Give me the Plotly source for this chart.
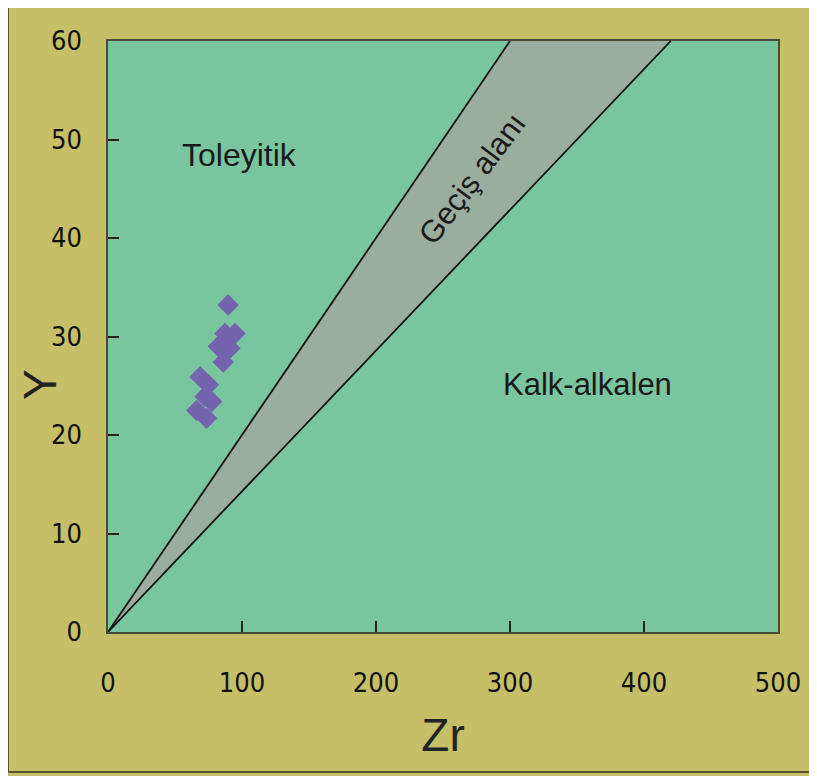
import plotly.graph_objects as go

# Sample data (Zr, Y) in ppm
zr = [89.6, 94.8, 87.3, 82.3, 91.0, 86.0, 68.7, 74.9, 72.4, 77.4, 66.2, 73.6]
y = [33.2, 30.3, 30.3, 29.0, 28.8, 27.4, 25.9, 25.1, 23.9, 23.4, 22.5, 21.7]

# Boundary lines through origin (Zr/Y = 5 and Zr/Y = 7)
line_a_zr = [0, 300]
line_a_y = [0, 60]
line_b_zr = [0, 420]
line_b_y = [0, 60]

# Transition zone polygon
zone_zr = [0, 300, 420, 0]
zone_y = [0, 60, 60, 0]

x_ticks = [0, 100, 200, 300, 400, 500]
y_ticks = [0, 10, 20, 30, 40, 50, 60]

label_font = "Liberation Sans, Arial, sans-serif"
narrow_font = "DejaVu Sans Condensed, Liberation Sans Narrow, Arial Narrow, Liberation Sans, sans-serif"

W, H = 809, 768
L, R, T, B = 100, 39, 33, 144
pw, ph = W - L - R, H - T - B

fig = go.Figure()

fig.add_trace(go.Scatter(x=zone_zr, y=zone_y, mode="lines", fill="toself",
                         fillcolor="#9aae9f", line=dict(width=0),
                         hoverinfo="skip", showlegend=False))
fig.add_trace(go.Scatter(x=line_a_zr, y=line_a_y, mode="lines",
                         line=dict(color="#111111", width=1.8), showlegend=False))
fig.add_trace(go.Scatter(x=line_b_zr, y=line_b_y, mode="lines",
                         line=dict(color="#111111", width=1.8), showlegend=False))
fig.add_trace(go.Scatter(x=zr, y=y, mode="markers",
                         marker=dict(symbol="diamond", size=16.5, color="#7364ad",
                                     line=dict(width=0)),
                         showlegend=False))

fig.add_annotation(x=98.5, y=48.4, text="Toleyitik", showarrow=False,
                   font=dict(family=label_font, size=32, color="#1a1a1a"))
fig.add_annotation(x=358, y=25.1, text="Kalk-alkalen", showarrow=False,
                   font=dict(family=label_font, size=31, color="#1a1a1a"))
fig.add_annotation(x=272, y=46, text="Geçiş alanı", showarrow=False, textangle=-53,
                   font=dict(family=label_font, size=31, color="#1a1a1a"))

# Y axis title (placed slightly below centre, as in the original)
fig.add_annotation(xref="paper", yref="paper", x=(32 - L) / pw, y=(T + ph - 377) / ph,
                   xanchor="center", yanchor="middle",
                   text="Y", showarrow=False, textangle=-90,
                   font=dict(family=label_font, size=46, color="#222222"))

# outer frame edge lines (left and bottom)
fx0 = -L / pw
fy0 = (T + ph - 764) / ph
fig.add_shape(type="line", xref="paper", yref="paper",
              x0=fx0, x1=fx0, y0=fy0, y1=(ph + T) / ph,
              line=dict(color="#5c5636", width=2), layer="above")
fig.add_shape(type="line", xref="paper", yref="paper",
              x0=fx0, x1=(pw + R) / pw, y0=fy0, y1=fy0,
              line=dict(color="#5c5636", width=2), layer="above")

fig.update_layout(
    width=W, height=H,
    margin=dict(l=L, r=R, t=T, b=B),
    paper_bgcolor="#c7bf68",
    plot_bgcolor="#79c59f",
    showlegend=False,
    xaxis=dict(range=[0, 500], tickvals=x_ticks, ticks="inside", ticklen=11,
               tickwidth=2, tickcolor="#222222", showgrid=False, zeroline=False,
               showline=True, linecolor="#4a4a38", linewidth=1.5, mirror=True,
               tickfont=dict(family=narrow_font, size=27, color="#111111"),
               ticklabelstandoff=26,
               title=dict(text="Zr", font=dict(family=label_font, size=46, color="#222222"),
                          standoff=22)),
    yaxis=dict(range=[0, 60], tickvals=y_ticks, ticks="inside", ticklen=11,
               tickwidth=2, tickcolor="#222222", showgrid=False, zeroline=False,
               showline=True, linecolor="#4a4a38", linewidth=1.5, mirror=True,
               tickfont=dict(family=narrow_font, size=27, color="#111111"),
               ticklabelstandoff=19),
)

fig.write_html("out.html")
